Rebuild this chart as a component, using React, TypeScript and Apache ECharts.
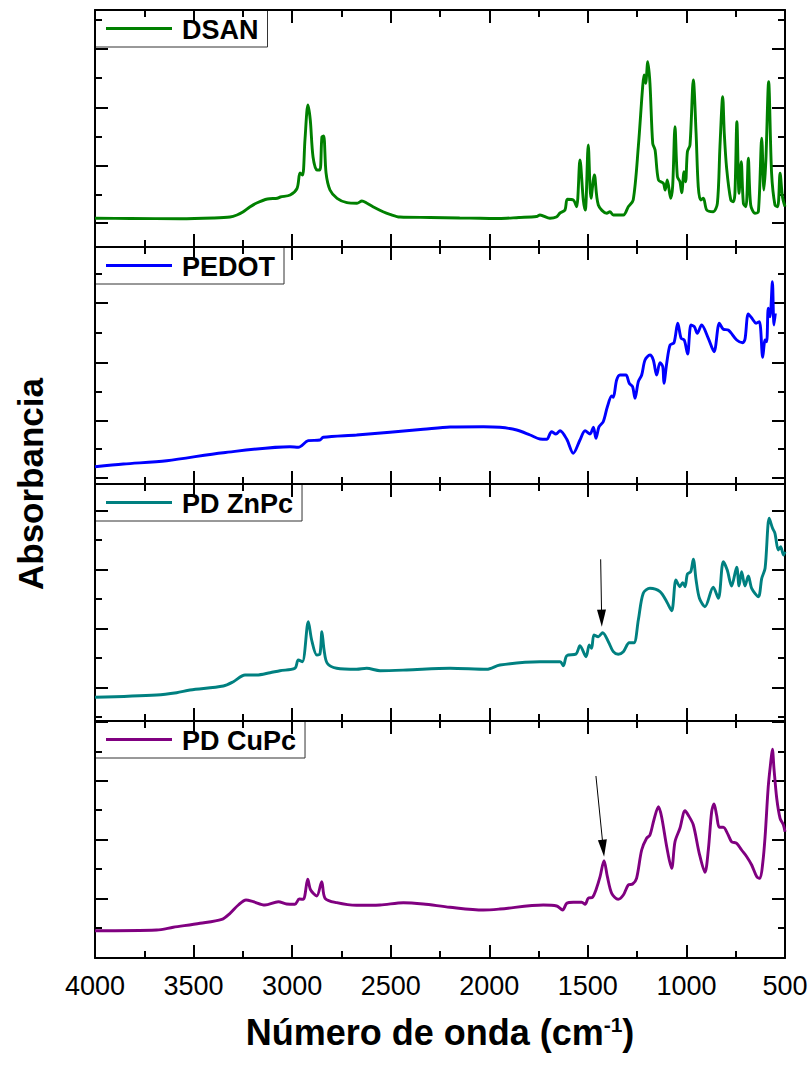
import React, { useEffect, useRef } from "react";
import * as echarts from "echarts";

// FTIR spectra, wavenumber in cm^-1 and absorbance in arbitrary units (a.u.)
const SAMPLE_NAMES = ["DSAN", "PEDOT", "PD ZnPc", "PD CuPc"];
const SAMPLE_COLORS = ["#008000", "#0000ff", "#008080", "#800080"];

const WAVENUMBER_MIN = 500;
const WAVENUMBER_MAX = 4000;
const WAVENUMBER_STEP = 500;
const ABS_MAX = 237;

const DSAN: [number, number][] = [
  [4000, 28.7], [3820, 28.5], [3570, 28.3], [3400, 29], [3315, 30], [3280, 32], [3250, 35], [3215, 40],
  [3180, 44], [3125, 48], [3075, 48.7], [3060, 50], [3010, 52], [2975, 58.7], [2960, 74], [2947, 72],
  [2935, 107], [2920, 142], [2908, 127], [2894, 90], [2874, 77], [2859, 77], [2849, 110], [2840, 111],
  [2828, 74], [2808, 57], [2772, 48.7], [2722, 44.3], [2671, 43.7], [2646, 46], [2620, 43.7], [2590, 40.3],
  [2539, 35.3], [2504, 32.7], [2453, 30], [2300, 29.5], [2150, 29], [2047, 28.7], [1950, 28.5], [1850, 29.5],
  [1760, 30.5], [1743, 32], [1692, 28.7], [1660, 30], [1641, 34], [1616, 37], [1604, 47.7], [1574, 47],
  [1557, 40.3], [1540, 87], [1523, 47], [1513, 37], [1498, 102], [1484, 48.7], [1467, 72], [1447, 42],
  [1404, 33.7], [1388, 35.3], [1371, 32], [1320, 32], [1295, 40.3], [1270, 47], [1244, 100.3], [1222, 160.3],
  [1215, 172], [1207, 163.7], [1196, 185.3], [1185, 163.7], [1171, 103.7], [1159, 97], [1142, 67], [1117, 63.7],
  [1108, 57], [1097, 67], [1080, 48.7], [1070, 60.3], [1058, 120.3], [1046, 70.3], [1033, 65.3], [1024, 54.3],
  [1012, 75.3], [1004, 65.3], [995, 95.3], [982, 102], [965, 167], [951, 113.7], [940, 60.3], [928, 47],
  [914, 48.7], [897, 37], [864, 35.3], [843, 43.7], [830, 100.3], [816, 150.3], [808, 113.7], [796, 78.7],
  [775, 47], [762, 45.3], [754, 53.7], [744, 125.3], [733, 53.7], [722, 85.3], [711, 43.7], [698, 40.3],
  [686, 88.7], [674, 42], [652, 33.7], [635, 35.3], [618, 108.7], [607, 57], [597, 87], [583, 165.3],
  [568, 73.7], [551, 42], [537, 40.3], [525, 73.7], [513, 50.3], [500, 40.3],
];

const PEDOT: [number, number][] = [
  [4000, 17.3], [3856, 20], [3636, 23.3], [3349, 31.3], [3011, 37.3], [2969, 36.7], [2918, 43.3], [2859, 44],
  [2842, 46.7], [2673, 49], [2335, 54.7], [2199, 57], [2030, 57.3], [1946, 56.7], [1861, 54], [1793, 49],
  [1743, 45], [1709, 44.7], [1684, 52.3], [1662, 50], [1641, 53.3], [1607, 44.7], [1574, 30.7], [1540, 44],
  [1514, 53.3], [1489, 50], [1472, 56.7], [1459, 45.7], [1443, 57.3], [1422, 62.3], [1401, 77.3], [1379, 88],
  [1371, 86.7], [1354, 104], [1337, 109], [1307, 109], [1290, 100.7], [1273, 97.3], [1261, 85.7], [1244, 102.3],
  [1227, 109], [1210, 124], [1185, 129], [1168, 124], [1151, 109], [1134, 121.3], [1120, 117.3], [1114, 100.7],
  [1100, 120.7], [1083, 139], [1063, 141.3], [1044, 160.7], [1027, 145.7], [1011, 144], [994, 130], [977, 159],
  [960, 157.3], [945, 150.7], [923, 159], [889, 145.7], [860, 132.3], [833, 160.7], [813, 154.7], [788, 154],
  [745, 144], [715, 141.3], [703, 144.7], [686, 170], [664, 164.7], [647, 160.7], [630, 162.3], [613, 126.7],
  [601, 144], [593, 142.3], [585, 175.7], [576, 167.3], [564, 202.3], [556, 159], [549, 170.7],
];

const PD_ZNPC: [number, number][] = [
  [4000, 23.7], [3687, 26], [3586, 28.3], [3518, 31], [3349, 35], [3298, 39.3], [3239, 46], [3180, 46],
  [3112, 48.3], [3062, 50.3], [2986, 52.7], [2969, 61], [2948, 59.3], [2918, 99.3], [2901, 81], [2875, 66],
  [2859, 67], [2849, 89.3], [2838, 71], [2822, 57.7], [2774, 52.7], [2673, 51.7], [2622, 52.7], [2554, 50.3],
  [2419, 51], [2199, 52.7], [2013, 51.7], [1946, 56], [1743, 59.3], [1641, 59.3], [1624, 55.3], [1607, 65.3],
  [1560, 67], [1540, 75.3], [1509, 64.3], [1493, 76], [1481, 72.7], [1469, 86], [1447, 84.3], [1425, 88.3],
  [1396, 79.3], [1371, 69.3], [1346, 66.7], [1320, 69.3], [1290, 78.3], [1266, 78.3], [1244, 101], [1219, 127.7],
  [1185, 132.7], [1134, 129.3], [1100, 119.3], [1075, 110.3], [1053, 141], [1033, 134.3], [1019, 138.3], [1007, 134.3],
  [995, 147], [978, 149.3], [965, 161.7], [951, 141], [934, 122.7], [906, 114.3], [864, 133.7], [838, 122.7],
  [813, 159.3], [793, 151], [771, 135], [745, 153.7], [733, 135], [720, 149.3], [703, 135], [686, 145],
  [669, 132.7], [635, 124.3], [618, 142.7], [601, 152.7], [580, 202.7], [563, 192.7], [551, 187.7], [534, 171],
  [522, 174.3], [508, 166], [500, 169.3],
];

const PD_CUPC: [number, number][] = [
  [4000, 27.3], [3687, 28], [3603, 30.7], [3467, 34.7], [3357, 38.7], [3315, 44.7], [3273, 53], [3234, 58],
  [3197, 56.3], [3138, 53], [3070, 56.3], [3028, 54], [2986, 53.7], [2964, 59], [2943, 58.7], [2921, 78.7],
  [2906, 68], [2875, 62], [2850, 76.3], [2833, 59.7], [2774, 55.3], [2673, 52.7], [2554, 53], [2436, 55.3],
  [2335, 54], [2199, 50.7], [2030, 48], [1946, 49], [1726, 53], [1658, 52], [1628, 48], [1607, 54.7],
  [1574, 55.7], [1531, 55.7], [1514, 53.7], [1498, 59.7], [1476, 60.7], [1459, 68], [1438, 81.3], [1418, 97.3],
  [1401, 81.3], [1379, 64.7], [1346, 58.7], [1320, 63], [1295, 73], [1273, 74], [1253, 79.7], [1227, 108],
  [1202, 119.7], [1185, 123], [1165, 138], [1142, 151.3], [1126, 141.3], [1100, 111.3], [1075, 89.7], [1058, 116.3],
  [1033, 129.7], [1007, 147.3], [991, 143], [965, 133], [935, 104.7], [906, 85.7], [889, 108], [872, 146.3],
  [860, 154], [847, 143], [833, 130.7], [813, 130.7], [788, 123], [771, 116.3], [745, 114.7], [720, 108],
  [694, 101.3], [669, 93], [643, 81.3], [627, 79.7], [613, 94.7], [601, 121.3], [585, 171.3], [573, 194.7],
  [564, 208.7], [556, 189.7], [542, 159.7], [525, 139.7], [508, 133], [500, 126.3],
];

const SPECTRA = [DSAN, PEDOT, PD_ZNPC, PD_CUPC];

// Absorbance tick positions (a.u.) for each panel
const MAJOR_Y_TICKS = [
  [24, 81, 139, 198],
  [6, 63, 121, 181],
  [33, 92, 151, 210],
  [59, 118, 177, 236],
];
const MINOR_Y_TICKS = [
  [52, 110, 169, 227],
  [35, 92, 151, 210],
  [4, 63, 122, 181],
  [30, 89, 148, 206],
];

// Arrows marking the band near 1420 cm^-1 (start point, arrow-head point)
const ZNPC_ARROW: [number, number][] = [[1435, 161.7], [1430, 102.8]];
const CUPC_ARROW: [number, number][] = [[1459, 182], [1422, 109.8]];
const ARROWS = [null, null, ZNPC_ARROW, CUPC_ARROW];

const X_TITLE = "Número de onda (cm";
const X_TITLE_SUP = "-1";
const Y_TITLE = "Absorbancia";

const PLOT_LEFT = 95;
const PLOT_RIGHT = 785;
const PANEL_TOP = 10;
const PANEL_H = 237;
const WIDTH = 811;
const HEIGHT = 1068;

const SANS = "'Liberation Sans', Arial, Helvetica, sans-serif";

function measure(text: string, font: string): number {
  const c = document.createElement("canvas").getContext("2d");
  if (!c) return text.length * 16;
  c.font = font;
  return c.measureText(text).width;
}

export default function App() {
  const ref = useRef<HTMLDivElement>(null);

  useEffect(() => {
    document.body.style.margin = "0";
    if (!ref.current) return;
    const chart = echarts.init(ref.current, null, { renderer: "svg" });

    const axisLine = { show: true, onZero: false, lineStyle: { color: "#000", width: 2 } };
    const grids: any[] = [];
    const xAxes: any[] = [];
    const yAxes: any[] = [];
    const series: any[] = [];
    const graphics: any[] = [];

    SAMPLE_NAMES.forEach((name, i) => {
      const top = PANEL_TOP + PANEL_H * i;
      grids.push({ left: PLOT_LEFT, right: WIDTH - PLOT_RIGHT, top, height: PANEL_H, containLabel: false });
      const isLast = i === SAMPLE_NAMES.length - 1;
      ["bottom", "top"].forEach((pos) => {
        const withLabels = isLast && pos === "bottom";
        xAxes.push({
          type: "value",
          gridIndex: i,
          position: pos,
          min: WAVENUMBER_MIN,
          max: WAVENUMBER_MAX,
          interval: WAVENUMBER_STEP,
          inverse: true,
          axisLine,
          axisTick: { show: true, inside: true, length: 13, lineStyle: { color: "#000", width: 2 } },
          minorTick: { show: true, splitNumber: 2, length: 7, lineStyle: { color: "#000", width: 2 } },
          splitLine: { show: false },
          minorSplitLine: { show: false },
          axisLabel: {
            show: withLabels,
            color: "#000",
            fontSize: 27,
            fontFamily: SANS,
            margin: 14,
            formatter: (v: number) => String(v),
          },
          name: withLabels ? `{a|${X_TITLE}}{s|${X_TITLE_SUP}}{a|)}` : "",
          nameLocation: "middle",
          nameGap: 56,
          nameTextStyle: {
            rich: {
              a: { fontSize: 36, fontWeight: "bold", fontFamily: SANS, color: "#000" },
              s: { fontSize: 21, fontWeight: "bold", fontFamily: SANS, color: "#000", verticalAlign: "top" },
            },
          },
        });
      });
      ["left", "right"].forEach((pos) => {
        [true, false].forEach((major) => {
          yAxes.push({
            type: "value",
            gridIndex: i,
            position: pos,
            min: 0,
            max: ABS_MAX,
            axisLine: major ? axisLine : { show: false },
            axisTick: {
              show: true,
              inside: true,
              length: major ? 13 : 7,
              customValues: major ? MAJOR_Y_TICKS[i] : MINOR_Y_TICKS[i],
              lineStyle: { color: "#000", width: 2 },
            },
            axisLabel: { show: false },
            splitLine: { show: false },
          });
        });
      });

      const arrow = ARROWS[i];
      series.push({
        type: "line",
        name,
        xAxisIndex: 2 * i,
        yAxisIndex: 4 * i,
        data: SPECTRA[i],
        showSymbol: false,
        symbol: "none",
        smooth: 0.3,
        lineStyle: { color: SAMPLE_COLORS[i], width: 2.9 },
        itemStyle: { color: SAMPLE_COLORS[i] },
        markLine: arrow
          ? {
              silent: true,
              animation: false,
              label: { show: false },
              lineStyle: { color: "#000", width: 1, type: "solid" },
              data: [
                [
                  { coord: arrow[0], symbol: "none" },
                  { coord: arrow[1], symbol: "path://M5,0L10,18L0,18Z", symbolSize: [9, 17] },
                ],
              ],
            }
          : undefined,
      });

      // Legend box for this panel
      const legendFont = `bold 27px ${SANS}`;
      const textW = measure(name, legendFont);
      const boxH = 37;
      const textX = PLOT_LEFT + 87;
      graphics.push({
        type: "group",
        z: 100,
        children: [
          {
            type: "rect",
            shape: { x: PLOT_LEFT, y: top, width: textX - PLOT_LEFT + textW + 9, height: boxH },
            style: { fill: "#fff", stroke: "#333", lineWidth: 1 },
          },
          {
            type: "line",
            shape: { x1: PLOT_LEFT + 11, y1: top + boxH / 2, x2: PLOT_LEFT + 77, y2: top + boxH / 2 },
            style: { stroke: SAMPLE_COLORS[i], lineWidth: 3 },
          },
          {
            type: "text",
            x: textX,
            y: top + boxH / 2 + 1,
            style: {
              text: name,
              font: legendFont,
              fill: "#000",
              textAlign: "left",
              textVerticalAlign: "middle",
            },
          },
        ],
      });
    });

    graphics.push({
      type: "text",
      x: 30,
      y: PANEL_TOP + (PANEL_H * SAMPLE_NAMES.length) / 2,
      rotation: Math.PI / 2,
      style: {
        text: Y_TITLE,
        font: `bold 35px ${SANS}`,
        fill: "#000",
        textAlign: "center",
        textVerticalAlign: "middle",
      },
    });

    chart.setOption({
      animation: false,
      backgroundColor: "#fff",
      grid: grids,
      xAxis: xAxes,
      yAxis: yAxes,
      series,
      graphic: graphics,
    });

    return () => chart.dispose();
  }, []);

  return <div ref={ref} style={{ width: WIDTH, height: HEIGHT }} />;
}
